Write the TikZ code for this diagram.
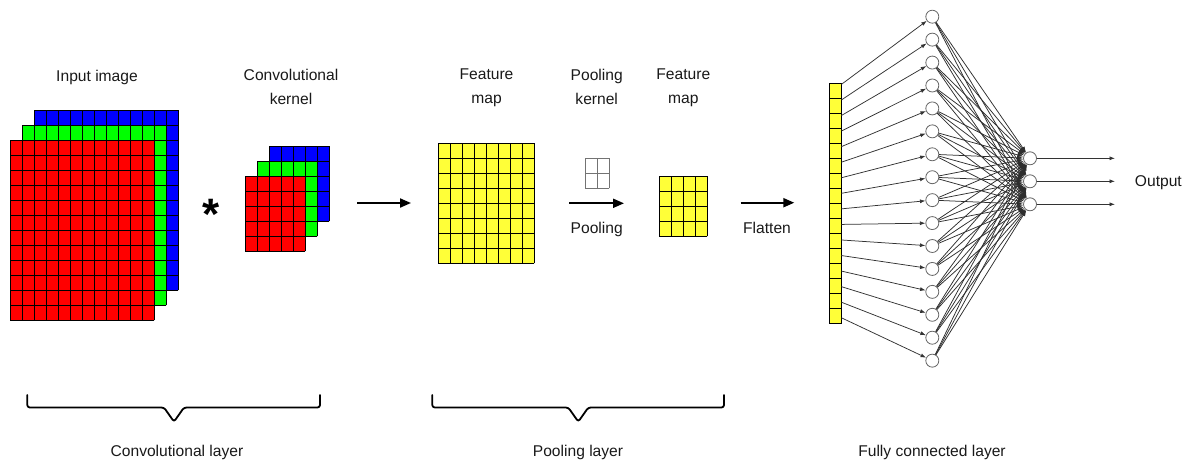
\documentclass[tikz,border=0pt]{standalone}
\usepackage{fontspec}
\setmainfont{Liberation Sans}
\usetikzlibrary{arrows.meta,calc}
\definecolor{chred}{RGB}{255,0,0}
\definecolor{chgreen}{RGB}{0,255,0}
\definecolor{chblue}{RGB}{0,0,255}
\definecolor{fmyellow}{RGB}{255,255,56}
\definecolor{inktext}{RGB}{25,25,25}

% grid of cells: x, y (top-left), columns, rows, fill colour
\newcommand{\cellgrid}[5]{%
  \fill[#5] (#1,#2) rectangle ++({#3*12},{#4*15});
  \foreach \i in {0,...,#3}{\draw[cell] ({#1+\i*12},#2) -- ++(0,{#4*15});}
  \foreach \j in {0,...,#4}{\draw[cell] (#1,{#2+\j*15}) -- ++({#3*12},0);}}

\begin{document}
\begin{tikzpicture}[x=1pt,y=-1pt,
  cell/.style={draw=black, line width=0.9pt, line cap=rect},
  lbl/.style={font=\fontsize{15.6}{23.5}\selectfont, text=inktext, align=center, inner sep=0pt},
  bigarrow/.style={line width=2pt, -{Triangle[length=11pt,width=9pt]}},
  neuron/.style={circle, draw=black!60, fill=white, line width=0.8pt, minimum size=13pt, inner sep=0pt},
  fcell/.style={draw=black, fill=fmyellow, line width=0.8pt, minimum width=12pt, minimum height=15pt, inner sep=0pt},
  link/.style={draw=black!80, line width=0.75pt, -{Latex[length=5.5pt,width=4pt]}},
  fclink/.style={draw=black!82, line width=0.75pt, -{Latex[length=6pt,width=4.5pt]}},
  brace/.style={line width=1.8pt, rounded corners=2.5pt, line cap=round, line join=round}
]
\useasboundingbox (0,0) rectangle (1189,466);

% input image: three colour channels
\cellgrid{34}{110}{12}{12}{chblue}
\cellgrid{22}{125}{12}{12}{chgreen}
\cellgrid{10}{140}{12}{12}{chred}

% convolutional kernel
\cellgrid{269}{146}{5}{5}{chblue}
\cellgrid{257}{161}{5}{5}{chgreen}
\cellgrid{245}{176}{5}{5}{chred}

\node[font=\bfseries\fontsize{44}{44}\selectfont, inner sep=0pt, anchor=base] (star) at (211.5,229) {*};

% feature maps and pooling kernel
\cellgrid{438}{143}{8}{8}{fmyellow}
\begin{scope}[cell/.style={draw=black!55, line width=0.8pt, line cap=rect}]
\cellgrid{585}{158}{2}{2}{white}
\end{scope}
\cellgrid{659}{176}{4}{4}{fmyellow}

% main arrows
\coordinate (cva) at (357,203);   \coordinate (cvb) at (411,203);
\coordinate (pla) at (569,203.3); \coordinate (plb) at (624,203.3);
\coordinate (fla) at (740.7,202.7); \coordinate (flb) at (794.3,202.7);
\draw[bigarrow] (cva) -- (cvb);
\draw[bigarrow] (pla) -- (plb);
\draw[bigarrow] (fla) -- (flb);

% flattened vector
\foreach \k in {1,...,16}{
  \node[fcell] (f\k) at (835,{83+15*\k-7.5}) {};
}
% hidden neurons
\foreach \k in {1,...,16}{
  \node[neuron] (h\k) at (932.3,{16.7+22.93*(\k-1)}) {};
}
% output neurons
\foreach \m in {1,2,3}{
  \node[neuron] (o\m) at (1030,{158.3+23*(\m-1)}) {};
  \coordinate (oe\m) at (1115,{158.3+23*(\m-1)});
}

% flattened vector to hidden layer
\foreach \k in {1,...,16}{
  \pgfmathsetmacro{\fr}{(1.7+0.53*(\k-1))/15}
  \draw[link] ($(f\k.north east)!\fr!(f\k.south east)$) -- (h\k);
}
% hidden layer to output layer
\foreach \k in {1,...,16}{
  \foreach \m in {1,2,3}{
    \draw[fclink] (h\k) -- (o\m);
  }
}
\foreach \m in {1,2,3}{
  \draw[link] (o\m) -- (oe\m);
}

% labels
\node[lbl, anchor=base] (tin) at (97,81) {Input image};
\node[lbl, anchor=north] (tck) at (291,69) {Convolutional\\kernel};
\node[lbl, anchor=north] (tfm1) at (486.5,69) {Feature\\map};
\node[lbl, anchor=north] (tpk) at (596.7,69) {Pooling\\kernel};
\node[lbl, anchor=north] (tfm2) at (683.3,69) {Feature\\map};
\node[lbl, anchor=base] (tpool) at (596.7,233.3) {Pooling};
\node[lbl, anchor=base] (tflat) at (767,233.3) {Flatten};
\node[lbl, anchor=base] (tout) at (1158.4,186.7) {Output};

% braces under the layers
\draw[brace] (27.3,395) -- (27.3,407.5) -- (164,407.5) -- (174,421.7) -- (184,407.5) -- (320,407.5) -- (320,395);
\draw[brace] (432.3,395) -- (432.3,407.5) -- (568.3,407.5) -- (578.3,421.7) -- (588.3,407.5) -- (724,407.5) -- (724,395);

\node[lbl, anchor=base] (lconv) at (177,456) {Convolutional layer};
\node[lbl, anchor=base] (lpool) at (578,456) {Pooling layer};
\node[lbl, anchor=base] (lfc) at (932,456) {Fully connected layer};
\end{tikzpicture}
\end{document}
